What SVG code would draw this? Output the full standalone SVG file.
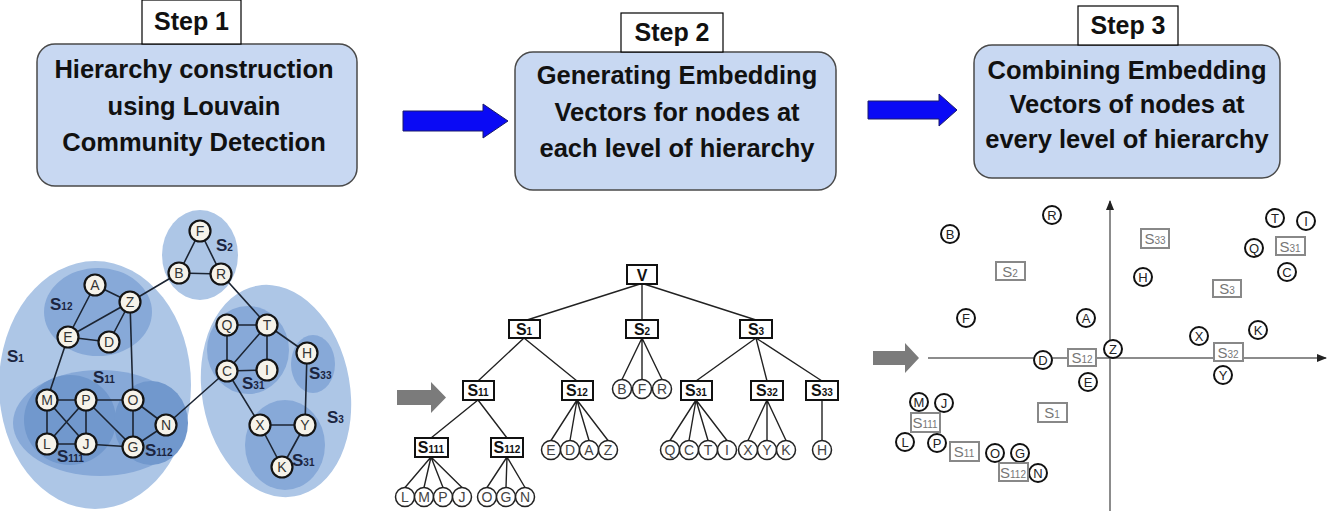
<svg xmlns="http://www.w3.org/2000/svg" width="1327" height="511" viewBox="0 0 1327 511">
<defs>
<style>
.box{fill:#c8d8f2;stroke:#4a4a4a;stroke-width:1.5}
.step{fill:#fff;stroke:#000;stroke-width:1.2}
.bt{font-family:"Liberation Sans",Arial,sans-serif;font-weight:bold;font-size:25.5px;fill:#111;text-anchor:middle}
.st{font-family:"Liberation Sans",Arial,sans-serif;font-weight:bold;font-size:25px;fill:#111;text-anchor:middle}
.e1{fill:#adc6e6}
.e2{fill:#87a9d8}
.e3{fill:#7198cd}
.ge{stroke:#1c2533;stroke-width:1.6;fill:none}
.gn{fill:#f6f3ea;stroke:#141414;stroke-width:2.2}
.gt{font-family:"Liberation Sans",Arial,sans-serif;font-size:14px;fill:#333;text-anchor:middle}
.gl{font-family:"Liberation Sans",Arial,sans-serif;font-weight:bold;font-size:17px;fill:#1b2540}
.sub{font-size:10px}
.te{stroke:#222;stroke-width:1.4;fill:none}
.tr{fill:#fff;stroke:#111;stroke-width:2}
.tc{fill:#fff;stroke:#222;stroke-width:1.5}
.tt{font-family:"Liberation Sans",Arial,sans-serif;font-weight:bold;font-size:16px;fill:#111;text-anchor:middle}
.tl{font-family:"Liberation Sans",Arial,sans-serif;font-size:14px;fill:#444;text-anchor:middle}
.ax{stroke:#666;stroke-width:1.5;fill:none}
.sc{fill:#fff;stroke:#111;stroke-width:2}
.sr{fill:#fff;stroke:#888;stroke-width:2}
.sl{font-family:"Liberation Sans",Arial,sans-serif;font-size:13px;fill:#222;text-anchor:middle}
.sq{font-family:"Liberation Sans",Arial,sans-serif;font-size:15px;fill:#777;text-anchor:middle}
</style>
<marker id="axh" markerWidth="10" markerHeight="10" refX="9" refY="5" orient="auto" markerUnits="userSpaceOnUse">
<path d="M0,1 L10,5 L0,9 Z" fill="#222"/>
</marker>
</defs>
<rect width="1327" height="511" fill="#fff"/>

<!-- Top step boxes -->
<g id="step1">
<rect class="box" x="37" y="44" width="320" height="142" rx="18"/>
<rect class="step" x="142" y="0" width="99" height="44"/>
<text class="st" x="191.5" y="30">Step 1</text>
<text class="bt" x="194" y="78">Hierarchy construction</text>
<text class="bt" x="194" y="115">using Louvain</text>
<text class="bt" x="194" y="151">Community Detection</text>
</g>
<g id="step2">
<rect class="box" x="515" y="52" width="321" height="138" rx="18"/>
<rect class="step" x="621" y="13" width="102" height="39"/>
<text class="st" x="672" y="41">Step 2</text>
<text class="bt" x="677" y="84">Generating Embedding</text>
<text class="bt" x="677" y="121">Vectors for nodes at</text>
<text class="bt" x="677" y="157">each level of hierarchy</text>
</g>
<g id="step3">
<rect class="box" x="974" y="45" width="306" height="133" rx="18"/>
<rect class="step" x="1078" y="6" width="100" height="39"/>
<text class="st" x="1128" y="34">Step 3</text>
<text class="bt" x="1127" y="79">Combining Embedding</text>
<text class="bt" x="1127" y="113">Vectors of nodes at</text>
<text class="bt" x="1127" y="148">every level of hierarchy</text>
</g>
<g id="arrows">
<path d="M403,111 H483 V104 L508,121 L483,138 V131 H403 Z" fill="#0a0af5" stroke="#1a1a6a" stroke-width="1"/>
<path d="M868,101 H939 V94 L957,110 L939,126 V119 H868 Z" fill="#0a0af5" stroke="#1a1a6a" stroke-width="1"/>
<path d="M397,390 H431 V382 L446,397.5 L431,413 V405 H397 Z" fill="#7b7b7b"/>
<path d="M873,351 H905 V343 L919,358 L905,373 V365 H873 Z" fill="#7b7b7b"/>
</g>

<!-- Left graph: communities -->
<g id="communities">
<ellipse class="e1" cx="95" cy="385" rx="96" ry="124"/>
<ellipse class="e1" cx="200" cy="255" rx="38" ry="45"/>
<ellipse class="e1" cx="276" cy="391" rx="74" ry="107" transform="rotate(-10 276 391)"/>
<ellipse class="e2" cx="98" cy="312" rx="54" ry="44"/>
<ellipse class="e2" cx="100" cy="423" rx="87" ry="53"/>
<ellipse class="e3" cx="70" cy="420" rx="46" ry="45"/>
<ellipse class="e3" cx="151" cy="423" rx="37" ry="42"/>
<ellipse class="e2" cx="248" cy="350" rx="41" ry="44"/>
<ellipse class="e2" cx="313" cy="364" rx="22" ry="29"/>
<ellipse class="e2" cx="285" cy="445" rx="40" ry="45"/>
</g>
<g id="graph-labels">
<text class="gl" x="7" y="362">S<tspan class="sub">1</tspan></text>
<text class="gl" x="50" y="310">S<tspan class="sub">12</tspan></text>
<text class="gl" x="93" y="383">S<tspan class="sub">11</tspan></text>
<text class="gl" x="57" y="462">S<tspan class="sub">111</tspan></text>
<text class="gl" x="145" y="456">S<tspan class="sub">112</tspan></text>
<text class="gl" x="216" y="251">S<tspan class="sub">2</tspan></text>
<text class="gl" x="242" y="389">S<tspan class="sub">31</tspan></text>
<text class="gl" x="309" y="379">S<tspan class="sub">33</tspan></text>
<text class="gl" x="327" y="423">S<tspan class="sub">3</tspan></text>
<text class="gl" x="292" y="466">S<tspan class="sub">31</tspan></text>
</g>
<g id="graph-edges">
<path class="ge" d="M95,285 L130,302 M95,285 L68,337 M68,337 L130,302 M68,337 L109,342 M109,342 L130,302 M130,302 L133,400 M130,302 L179,273 M179,273 L200,231 L221,274 M179,273 L221,274 M221,274 L267,325 M227,325 L267,325 M227,325 L227,371 M267,325 L227,371 M267,325 L267,370 M227,371 L267,370 M267,325 L307,353 M307,353 L305,425 M227,371 L260,425 M260,425 L305,425 M260,425 L282,467 M305,425 L282,467 M227,371 L166,425 M68,337 L47,400 M47,400 L86,400 M47,400 L47,444 M47,400 L86,444 M86,400 L47,444 M86,400 L86,444 M86,400 L133,400 M86,400 L133,447 M47,444 L86,444 M86,444 L133,447 M133,400 L133,447 M133,400 L166,425 M133,447 L166,425"/>
</g>
<g id="graph-nodes">
<g id="gA"><circle class="gn" cx="95" cy="285" r="10.5"/><text class="gt" x="95" y="290">A</text></g>
<g id="gZ"><circle class="gn" cx="130" cy="302" r="10.5"/><text class="gt" x="130" y="307">Z</text></g>
<g id="gE"><circle class="gn" cx="68" cy="337" r="10.5"/><text class="gt" x="68" y="342">E</text></g>
<g id="gD"><circle class="gn" cx="109" cy="342" r="10.5"/><text class="gt" x="109" y="347">D</text></g>
<g id="gB"><circle class="gn" cx="179" cy="273" r="10.5"/><text class="gt" x="179" y="278">B</text></g>
<g id="gF"><circle class="gn" cx="200" cy="231" r="10.5"/><text class="gt" x="200" y="236">F</text></g>
<g id="gR"><circle class="gn" cx="221" cy="274" r="10.5"/><text class="gt" x="221" y="279">R</text></g>
<g id="gM"><circle class="gn" cx="47" cy="400" r="10.5"/><text class="gt" x="47" y="405">M</text></g>
<g id="gP"><circle class="gn" cx="86" cy="400" r="10.5"/><text class="gt" x="86" y="405">P</text></g>
<g id="gO"><circle class="gn" cx="133" cy="400" r="10.5"/><text class="gt" x="133" y="405">O</text></g>
<g id="gN"><circle class="gn" cx="166" cy="425" r="10.5"/><text class="gt" x="166" y="430">N</text></g>
<g id="gL"><circle class="gn" cx="47" cy="444" r="10.5"/><text class="gt" x="47" y="449">L</text></g>
<g id="gJ"><circle class="gn" cx="86" cy="444" r="10.5"/><text class="gt" x="86" y="449">J</text></g>
<g id="gG"><circle class="gn" cx="133" cy="447" r="10.5"/><text class="gt" x="133" y="452">G</text></g>
<g id="gQ"><circle class="gn" cx="227" cy="325" r="10.5"/><text class="gt" x="227" y="330">Q</text></g>
<g id="gT"><circle class="gn" cx="267" cy="325" r="10.5"/><text class="gt" x="267" y="330">T</text></g>
<g id="gC"><circle class="gn" cx="227" cy="371" r="10.5"/><text class="gt" x="227" y="376">C</text></g>
<g id="gI"><circle class="gn" cx="267" cy="370" r="10.5"/><text class="gt" x="267" y="375">I</text></g>
<g id="gH"><circle class="gn" cx="307" cy="353" r="10.5"/><text class="gt" x="307" y="358">H</text></g>
<g id="gX"><circle class="gn" cx="260" cy="425" r="10.5"/><text class="gt" x="260" y="430">X</text></g>
<g id="gY"><circle class="gn" cx="305" cy="425" r="10.5"/><text class="gt" x="305" y="430">Y</text></g>
<g id="gK"><circle class="gn" cx="282" cy="467" r="10.5"/><text class="gt" x="282" y="472">K</text></g>
</g>

<!-- Tree -->
<g id="tree-edges">
<path class="te" d="M640,284 L527,320 M642,284 L642,320 M644,284 L756,320 M524,338 L478,381 M524,338 L577,381 M642,338 L622,379.5 M642,338 L642,379.5 M642,338 L662,379.5 M756,338 L696,381 M756,338 L767,381 M756,338 L822,381 M478,400 L431,438 M478,400 L507,438 M577,400 L551,440.5 M577,400 L570,440.5 M577,400 L589,440.5 M577,400 L608,440.5 M696,400 L670,440.5 M696,400 L689,440.5 M696,400 L708,440.5 M696,400 L727,440.5 M767,400 L748,440.5 M767,400 L767,440.5 M767,400 L786,440.5 M822,400 L822,440.5 M431,457 L405,487.5 M431,457 L424,487.5 M431,457 L443,487.5 M431,457 L462,487.5 M507,457 L487,487.5 M507,457 L506,487.5 M507,457 L525,487.5"/>
</g>
<g id="tree-nodes">
<g id="tV"><rect class="tr" x="627" y="265" width="30" height="19"/><text class="tt" x="642" y="281">V</text></g>
<g id="tS1"><rect class="tr" x="509" y="320" width="31" height="18"/><text class="tt" x="524" y="335">S<tspan class="sub">1</tspan></text></g>
<g id="tS2"><rect class="tr" x="626" y="320" width="32" height="18"/><text class="tt" x="642" y="335">S<tspan class="sub">2</tspan></text></g>
<g id="tS3"><rect class="tr" x="740" y="320" width="32" height="18"/><text class="tt" x="756" y="335">S<tspan class="sub">3</tspan></text></g>
<g id="tS11"><rect class="tr" x="463" y="381" width="31" height="19"/><text class="tt" x="478" y="396">S<tspan class="sub">11</tspan></text></g>
<g id="tS12"><rect class="tr" x="562" y="381" width="31" height="19"/><text class="tt" x="577" y="396">S<tspan class="sub">12</tspan></text></g>
<g id="tS31"><rect class="tr" x="681" y="381" width="31" height="19"/><text class="tt" x="696" y="396">S<tspan class="sub">31</tspan></text></g>
<g id="tS32"><rect class="tr" x="751" y="381" width="32" height="19"/><text class="tt" x="767" y="396">S<tspan class="sub">32</tspan></text></g>
<g id="tS33"><rect class="tr" x="806" y="381" width="32" height="19"/><text class="tt" x="822" y="396">S<tspan class="sub">33</tspan></text></g>
<g id="tS111"><rect class="tr" x="415" y="438" width="33" height="19"/><text class="tt" x="431" y="453">S<tspan class="sub">111</tspan></text></g>
<g id="tS112"><rect class="tr" x="491" y="438" width="32" height="19"/><text class="tt" x="507" y="453">S<tspan class="sub">112</tspan></text></g>
<g id="tB"><circle class="tc" cx="622" cy="389" r="9.5"/><text class="tl" x="622" y="394">B</text></g>
<g id="tF"><circle class="tc" cx="642" cy="389" r="9.5"/><text class="tl" x="642" y="394">F</text></g>
<g id="tR"><circle class="tc" cx="662" cy="389" r="9.5"/><text class="tl" x="662" y="394">R</text></g>
<g id="tE"><circle class="tc" cx="551" cy="450" r="9.5"/><text class="tl" x="551" y="455">E</text></g>
<g id="tD"><circle class="tc" cx="570" cy="450" r="9.5"/><text class="tl" x="570" y="455">D</text></g>
<g id="tA"><circle class="tc" cx="589" cy="450" r="9.5"/><text class="tl" x="589" y="455">A</text></g>
<g id="tZ"><circle class="tc" cx="608" cy="450" r="9.5"/><text class="tl" x="608" y="455">Z</text></g>
<g id="tQ"><circle class="tc" cx="670" cy="450" r="9.5"/><text class="tl" x="670" y="455">Q</text></g>
<g id="tC"><circle class="tc" cx="689" cy="450" r="9.5"/><text class="tl" x="689" y="455">C</text></g>
<g id="tT"><circle class="tc" cx="708" cy="450" r="9.5"/><text class="tl" x="708" y="455">T</text></g>
<g id="tI"><circle class="tc" cx="727" cy="450" r="9.5"/><text class="tl" x="727" y="455">I</text></g>
<g id="tX"><circle class="tc" cx="748" cy="450" r="9.5"/><text class="tl" x="748" y="455">X</text></g>
<g id="tY"><circle class="tc" cx="767" cy="450" r="9.5"/><text class="tl" x="767" y="455">Y</text></g>
<g id="tK"><circle class="tc" cx="786" cy="450" r="9.5"/><text class="tl" x="786" y="455">K</text></g>
<g id="tH"><circle class="tc" cx="822" cy="450" r="9.5"/><text class="tl" x="822" y="455">H</text></g>
<g id="tL"><circle class="tc" cx="405" cy="497" r="9.5"/><text class="tl" x="405" y="502">L</text></g>
<g id="tM"><circle class="tc" cx="424" cy="497" r="9.5"/><text class="tl" x="424" y="502">M</text></g>
<g id="tP"><circle class="tc" cx="443" cy="497" r="9.5"/><text class="tl" x="443" y="502">P</text></g>
<g id="tJ"><circle class="tc" cx="462" cy="497" r="9.5"/><text class="tl" x="462" y="502">J</text></g>
<g id="tO"><circle class="tc" cx="487" cy="497" r="9.5"/><text class="tl" x="487" y="502">O</text></g>
<g id="tG"><circle class="tc" cx="506" cy="497" r="9.5"/><text class="tl" x="506" y="502">G</text></g>
<g id="tN"><circle class="tc" cx="525" cy="497" r="9.5"/><text class="tl" x="525" y="502">N</text></g>
</g>

<!-- Scatter -->
<g id="axes">
<line class="ax" x1="928" y1="358" x2="1326" y2="358" marker-end="url(#axh)"/>
<line class="ax" x1="1110" y1="511" x2="1110" y2="201" marker-end="url(#axh)"/>
</g>
<g id="scatter-nodes">
<g id="sB"><circle class="sc" cx="950" cy="234" r="9"/><text class="sl" x="950" y="239">B</text></g>
<g id="sR"><circle class="sc" cx="1052" cy="215" r="9"/><text class="sl" x="1052" y="220">R</text></g>
<g id="sF"><circle class="sc" cx="966" cy="318" r="9"/><text class="sl" x="966" y="323">F</text></g>
<g id="sA"><circle class="sc" cx="1086" cy="318" r="9"/><text class="sl" x="1086" y="323">A</text></g>
<g id="sD"><circle class="sc" cx="1043" cy="360" r="9"/><text class="sl" x="1043" y="365">D</text></g>
<g id="sZ"><circle class="sc" cx="1113" cy="349" r="9"/><text class="sl" x="1113" y="354">Z</text></g>
<g id="sE"><circle class="sc" cx="1088" cy="382" r="9"/><text class="sl" x="1088" y="387">E</text></g>
<g id="sH"><circle class="sc" cx="1143" cy="277" r="9"/><text class="sl" x="1143" y="282">H</text></g>
<g id="sX"><circle class="sc" cx="1199" cy="336" r="9"/><text class="sl" x="1199" y="341">X</text></g>
<g id="sK"><circle class="sc" cx="1258" cy="330" r="9"/><text class="sl" x="1258" y="335">K</text></g>
<g id="sY"><circle class="sc" cx="1223" cy="375" r="9"/><text class="sl" x="1223" y="380">Y</text></g>
<g id="sT"><circle class="sc" cx="1275" cy="218" r="9"/><text class="sl" x="1275" y="223">T</text></g>
<g id="sI"><circle class="sc" cx="1306" cy="221" r="9"/><text class="sl" x="1306" y="226">I</text></g>
<g id="sQ"><circle class="sc" cx="1254" cy="248" r="9"/><text class="sl" x="1254" y="253">Q</text></g>
<g id="sC"><circle class="sc" cx="1287" cy="272" r="9"/><text class="sl" x="1287" y="277">C</text></g>
<g id="sM"><circle class="sc" cx="919" cy="402" r="9"/><text class="sl" x="919" y="407">M</text></g>
<g id="sJ"><circle class="sc" cx="944" cy="403" r="9"/><text class="sl" x="944" y="408">J</text></g>
<g id="sL"><circle class="sc" cx="905" cy="442" r="9"/><text class="sl" x="905" y="447">L</text></g>
<g id="sP"><circle class="sc" cx="937" cy="443" r="9"/><text class="sl" x="937" y="448">P</text></g>
<g id="sO"><circle class="sc" cx="995" cy="453" r="9"/><text class="sl" x="995" y="458">O</text></g>
<g id="sG"><circle class="sc" cx="1020" cy="453" r="9"/><text class="sl" x="1020" y="458">G</text></g>
<g id="sN"><circle class="sc" cx="1038" cy="473" r="9"/><text class="sl" x="1038" y="478">N</text></g>
<g id="sS2"><rect class="sr" x="996" y="262" width="29" height="18"/><text class="sq" x="1010" y="277">S<tspan class="sub">2</tspan></text></g>
<g id="sS33"><rect class="sr" x="1141" y="229" width="28" height="19"/><text class="sq" x="1155" y="244">S<tspan class="sub">33</tspan></text></g>
<g id="sS31"><rect class="sr" x="1276" y="237" width="29" height="18"/><text class="sq" x="1290" y="252">S<tspan class="sub">31</tspan></text></g>
<g id="sS3"><rect class="sr" x="1213" y="280" width="28" height="17"/><text class="sq" x="1227" y="294">S<tspan class="sub">3</tspan></text></g>
<g id="sS32"><rect class="sr" x="1214" y="343" width="29" height="18"/><text class="sq" x="1228" y="358">S<tspan class="sub">32</tspan></text></g>
<g id="sS12"><rect class="sr" x="1068" y="349" width="28" height="17"/><text class="sq" x="1082" y="363">S<tspan class="sub">12</tspan></text></g>
<g id="sS1"><rect class="sr" x="1038" y="403" width="29" height="19"/><text class="sq" x="1052" y="418">S<tspan class="sub">1</tspan></text></g>
<g id="sS111"><rect class="sr" x="911" y="413" width="29" height="19"/><text class="sq" x="925" y="428">S<tspan class="sub">111</tspan></text></g>
<g id="sS11"><rect class="sr" x="950" y="442" width="29" height="19"/><text class="sq" x="964" y="457">S<tspan class="sub">11</tspan></text></g>
<g id="sS112"><rect class="sr" x="999" y="463" width="29" height="18"/><text class="sq" x="1013" y="478">S<tspan class="sub">112</tspan></text></g>
</g>
</svg>
